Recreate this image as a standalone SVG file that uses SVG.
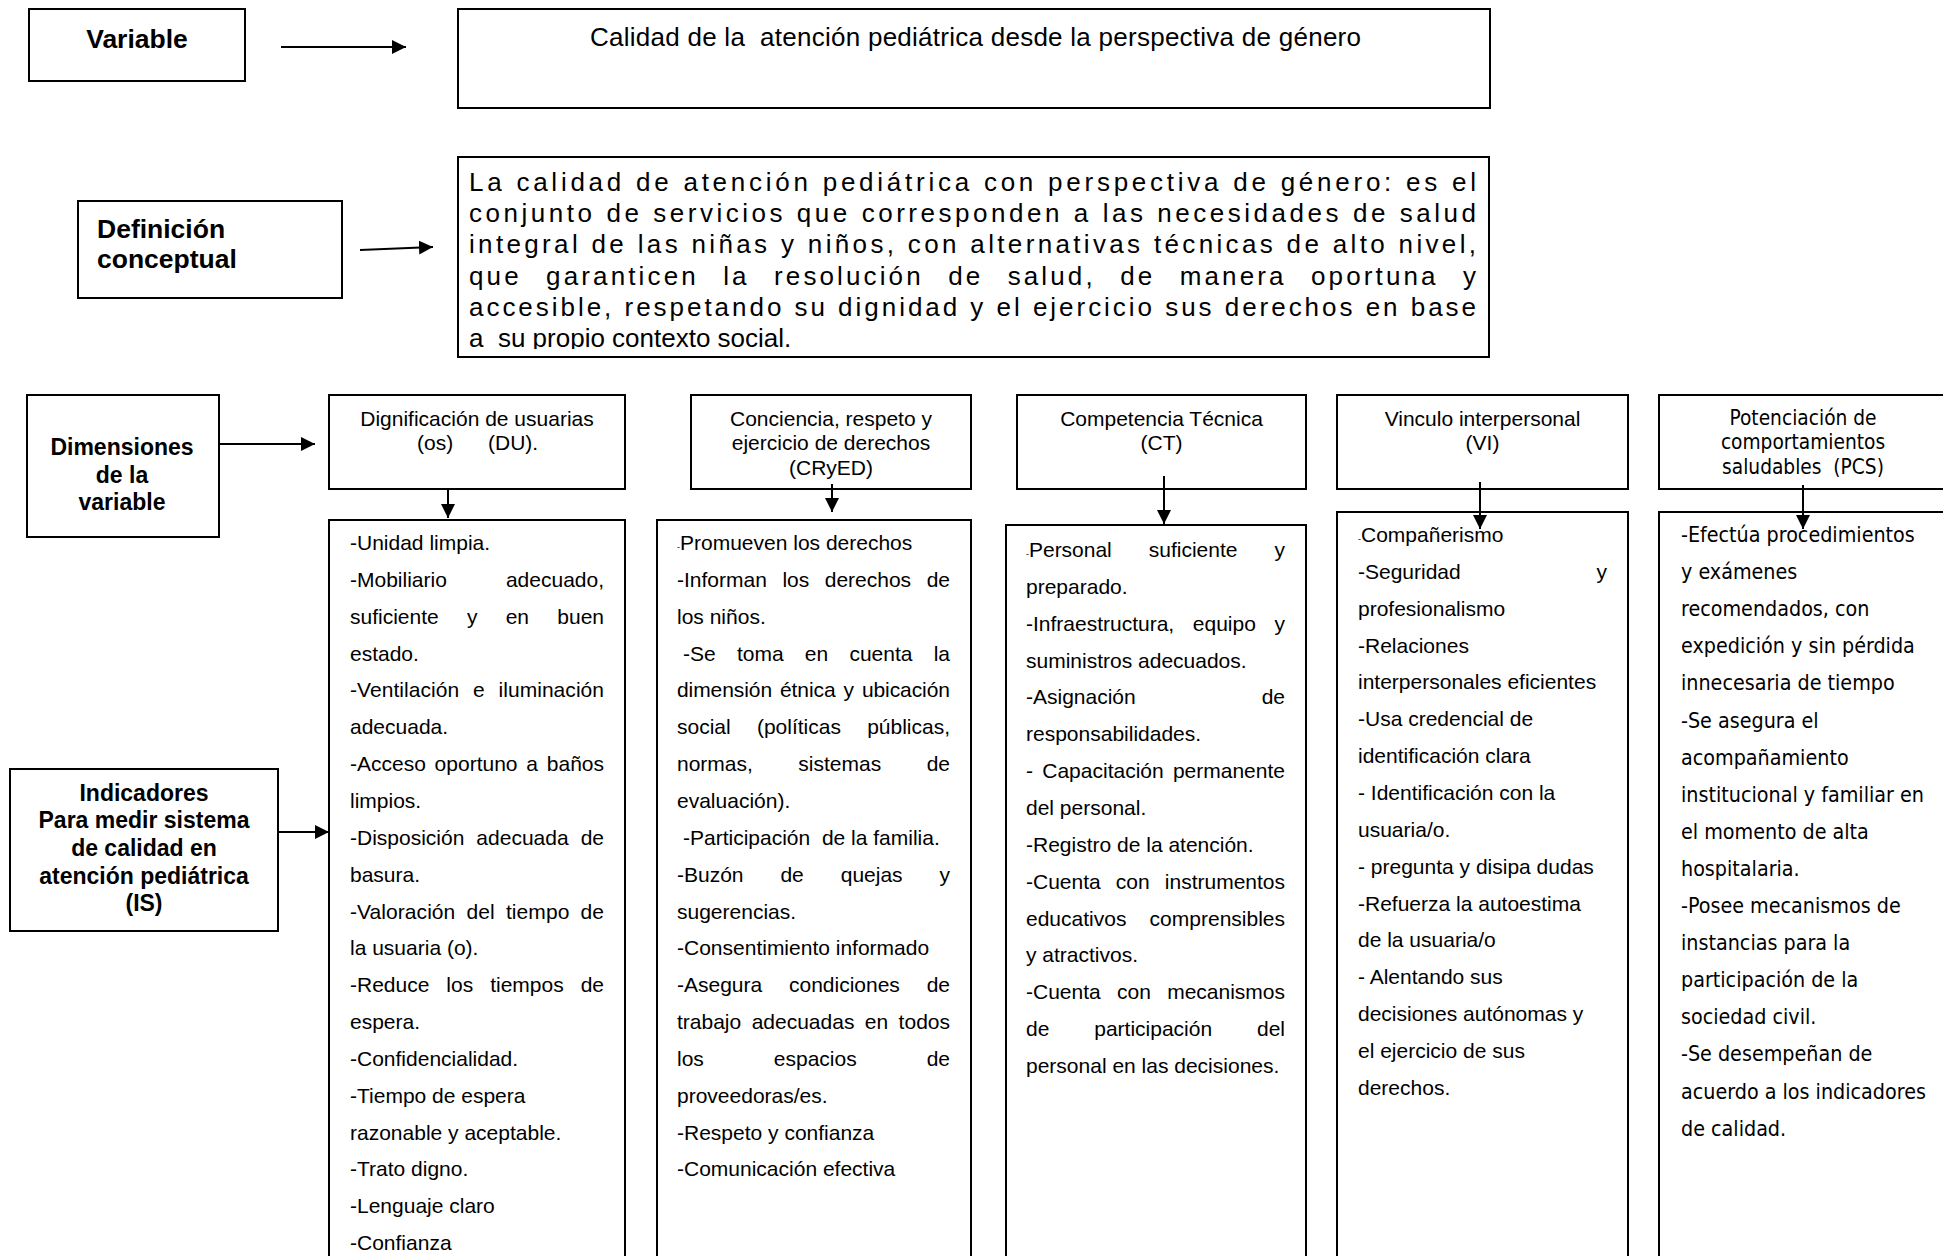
<svg xmlns="http://www.w3.org/2000/svg" width="1943" height="1256" viewBox="0 0 1943 1256">
<style>
.box{fill:#fff;stroke:#000;stroke-width:2}
.lbl{font-family:"Liberation Sans",Arial,sans-serif;font-weight:bold;fill:#000;text-anchor:middle}
.big{font-family:"Liberation Sans",Arial,sans-serif;font-weight:bold;font-size:26.5px;fill:#000}
.t{font-family:"Liberation Sans",Arial,sans-serif;font-size:21px;fill:#000}
.h{font-family:"Liberation Sans",Arial,sans-serif;font-size:21px;fill:#000;text-anchor:middle}
.tah{font-family:"DejaVu Sans Condensed","DejaVu Sans",sans-serif;font-stretch:condensed;font-size:21.3px;fill:#000}
.tahh{font-family:"DejaVu Sans Condensed","DejaVu Sans",sans-serif;font-stretch:condensed;font-size:20.7px;fill:#000;text-anchor:middle}
.def{font-family:"Liberation Sans",Arial,sans-serif;font-size:26px;fill:#000}
.conn{stroke:#000;stroke-width:2;fill:none;marker-end:url(#ah)}
</style>
<defs>
<marker id="ah" markerUnits="userSpaceOnUse" markerWidth="14" markerHeight="14" refX="14" refY="7" orient="auto">
<path d="M0,0 L14,7 L0,14 z" fill="#000"/>
</marker>
<clipPath id="defclip"><rect x="458" y="158" width="1031" height="191"/></clipPath>
</defs>
<rect width="1943" height="1256" fill="#fff"/>

<g id="n-variable">
<rect class="box" x="29" y="9" width="216" height="72"/>
<text class="big" x="137" y="48" text-anchor="middle">Variable</text>
</g>

<g id="n-title">
<rect class="box" x="458" y="9" width="1032" height="99"/>
<text class="t" style="font-size:26px" x="590" y="46" textLength="771" lengthAdjust="spacing" xml:space="preserve">Calidad de la  atención pediátrica desde la perspectiva de género</text>
</g>

<g id="n-def-label">
<rect class="box" x="78" y="201" width="264" height="97"/>
<text class="big" x="97" y="238">Definición</text>
<text class="big" x="97" y="268">conceptual</text>
</g>

<g id="n-def-text">
<rect class="box" x="458" y="157" width="1031" height="200"/>
<g clip-path="url(#defclip)">
<text class="def" x="469" y="191" textLength="1007" lengthAdjust="spacing">La calidad de atención pediátrica con perspectiva de género: es el</text>
<text class="def" x="469" y="222" textLength="1007" lengthAdjust="spacing">conjunto de servicios que corresponden a las necesidades de salud</text>
<text class="def" x="469" y="253" textLength="1007" lengthAdjust="spacing">integral de las niñas y niños, con alternativas técnicas de alto nivel,</text>
<text class="def" x="469" y="285" style="word-spacing:14px" textLength="1007" lengthAdjust="spacing">que garanticen la resolución de salud, de manera oportuna y</text>
<text class="def" x="469" y="316" textLength="1007" lengthAdjust="spacing">accesible, respetando su dignidad y el ejercicio sus derechos en base</text>
<text class="def" x="469" y="347" xml:space="preserve">a  su propio contexto social.</text>
</g>
</g>

<g id="n-dim-label">
<rect class="box" x="27" y="395" width="192" height="142"/>
<text class="lbl" style="font-size:23px" x="122" y="455">Dimensiones</text>
<text class="lbl" style="font-size:23px" x="122" y="483">de la</text>
<text class="lbl" style="font-size:23px" x="122" y="510">variable</text>
</g>

<g id="n-ind-label">
<rect class="box" x="10" y="769" width="268" height="162"/>
<text class="lbl" style="font-size:23px" x="144" y="801">Indicadores</text>
<text class="lbl" style="font-size:23px" x="144" y="828">Para medir sistema</text>
<text class="lbl" style="font-size:23px" x="144" y="856">de calidad en</text>
<text class="lbl" style="font-size:23px" x="144" y="884">atención pediátrica</text>
<text class="lbl" style="font-size:23px" x="144" y="911">(IS)</text>
</g>

<g id="n-du-head">
<rect class="box" x="329" y="395" width="296" height="94"/>
<text class="h" x="477" y="426">Dignificación de usuarias</text>
<text class="t" x="417" y="450">(os)</text>
<text class="t" x="488" y="450">(DU).</text>
</g>
<g id="n-du-list">
<rect class="box" x="329" y="520" width="296" height="760"/>
<text class="t" x="350" y="550">-Unidad limpia.</text>
<text class="t" x="350" y="587" style="word-spacing:53.3px" textLength="254" lengthAdjust="spacing">-Mobiliario adecuado,</text>
<text class="t" x="350" y="624" style="word-spacing:22.4px" textLength="254" lengthAdjust="spacing">suficiente y en buen</text>
<text class="t" x="350" y="661">estado.</text>
<text class="t" x="350" y="697" style="word-spacing:7.95px" textLength="254" lengthAdjust="spacing">-Ventilación e iluminación</text>
<text class="t" x="350" y="734">adecuada.</text>
<text class="t" x="350" y="771" style="word-spacing:2.97px" textLength="254" lengthAdjust="spacing">-Acceso oportuno a baños</text>
<text class="t" x="350" y="808">limpios.</text>
<text class="t" x="350" y="845" style="word-spacing:6.2px" textLength="254" lengthAdjust="spacing">-Disposición adecuada de</text>
<text class="t" x="350" y="882">basura.</text>
<text class="t" x="350" y="919" style="word-spacing:5.3px" textLength="254" lengthAdjust="spacing">-Valoración del tiempo de</text>
<text class="t" x="350" y="955">la usuaria (o).</text>
<text class="t" x="350" y="992" style="word-spacing:11.1px" textLength="254" lengthAdjust="spacing">-Reduce los tiempos de</text>
<text class="t" x="350" y="1029">espera.</text>
<text class="t" x="350" y="1066">-Confidencialidad.</text>
<text class="t" x="350" y="1103">-Tiempo de espera</text>
<text class="t" x="350" y="1140">razonable y aceptable.</text>
<text class="t" x="350" y="1176">-Trato digno.</text>
<text class="t" x="350" y="1213">-Lenguaje claro</text>
<text class="t" x="350" y="1250">-Confianza</text>
</g>

<g id="n-cr-head">
<rect class="box" x="691" y="395" width="280" height="94"/>
<text class="h" x="831" y="426">Conciencia, respeto y</text>
<text class="h" x="831" y="450">ejercicio de derechos</text>
<text class="h" x="831" y="475">(CRyED)</text>
</g>
<g id="n-cr-list">
<rect class="box" x="657" y="520" width="314" height="760"/>
<text class="t" x="677" y="550"><tspan font-size="9">-</tspan>Promueven los derechos</text>
<text class="t" x="677" y="587" style="word-spacing:9.7px" textLength="273" lengthAdjust="spacing">-Informan los derechos de</text>
<text class="t" x="677" y="624">los niños.</text>
<text class="t" x="683" y="661" style="word-spacing:15.4px" textLength="267" lengthAdjust="spacing">-Se toma en cuenta la</text>
<text class="t" x="677" y="697" style="word-spacing:2.2px" textLength="273" lengthAdjust="spacing">dimensión étnica y ubicación</text>
<text class="t" x="677" y="734" style="word-spacing:20.4px" textLength="273" lengthAdjust="spacing">social (políticas públicas,</text>
<text class="t" x="677" y="771" style="word-spacing:39.6px" textLength="273" lengthAdjust="spacing">normas, sistemas de</text>
<text class="t" x="677" y="808">evaluación).</text>
<text class="t" x="683" y="845" xml:space="preserve">-Participación  de la familia.</text>
<text class="t" x="677" y="882" style="word-spacing:31.1px" textLength="273" lengthAdjust="spacing">-Buzón de quejas y</text>
<text class="t" x="677" y="919">sugerencias.</text>
<text class="t" x="677" y="955">-Consentimiento informado</text>
<text class="t" x="677" y="992" style="word-spacing:20.95px" textLength="273" lengthAdjust="spacing">-Asegura condiciones de</text>
<text class="t" x="677" y="1029" style="word-spacing:4.6px" textLength="273" lengthAdjust="spacing">trabajo adecuadas en todos</text>
<text class="t" x="677" y="1066" style="word-spacing:64.1px" textLength="273" lengthAdjust="spacing">los espacios de</text>
<text class="t" x="677" y="1103">proveedoras/es.</text>
<text class="t" x="677" y="1140">-Respeto y confianza</text>
<text class="t" x="677" y="1176">-Comunicación efectiva</text>
</g>

<g id="n-ct-head">
<rect class="box" x="1017" y="395" width="289" height="94"/>
<text class="h" x="1161.5" y="426">Competencia Técnica</text>
<text class="h" x="1161.5" y="450">(CT)</text>
</g>
<g id="n-ct-list">
<rect class="box" x="1006" y="525" width="300" height="760"/>
<text class="t" x="1026" y="557" style="word-spacing:31.3px" textLength="259" lengthAdjust="spacing"><tspan font-size="9">-</tspan>Personal suficiente y</text>
<text class="t" x="1026" y="594">preparado.</text>
<text class="t" x="1026" y="631" style="word-spacing:12.8px" textLength="259" lengthAdjust="spacing">-Infraestructura, equipo y</text>
<text class="t" x="1026" y="668">suministros adecuados.</text>
<text class="t" x="1026" y="704" style="word-spacing:120.1px" textLength="259" lengthAdjust="spacing">-Asignación de</text>
<text class="t" x="1026" y="741">responsabilidades.</text>
<text class="t" x="1026" y="778" style="word-spacing:3.45px" textLength="259" lengthAdjust="spacing">- Capacitación permanente</text>
<text class="t" x="1026" y="815">del personal.</text>
<text class="t" x="1026" y="852">-Registro de la atención.</text>
<text class="t" x="1026" y="889" style="word-spacing:9.3px" textLength="259" lengthAdjust="spacing">-Cuenta con instrumentos</text>
<text class="t" x="1026" y="926" style="word-spacing:17.4px" textLength="259" lengthAdjust="spacing">educativos comprensibles</text>
<text class="t" x="1026" y="962">y atractivos.</text>
<text class="t" x="1026" y="999" style="word-spacing:10.45px" textLength="259" lengthAdjust="spacing">-Cuenta con mecanismos</text>
<text class="t" x="1026" y="1036" style="word-spacing:39.05px" textLength="259" lengthAdjust="spacing">de participación del</text>
<text class="t" x="1026" y="1073">personal en las decisiones.</text>
</g>

<g id="n-vi-head">
<rect class="box" x="1337" y="395" width="291" height="94"/>
<text class="h" x="1482.5" y="426">Vinculo interpersonal</text>
<text class="h" x="1482.5" y="450">(VI)</text>
</g>
<g id="n-vi-list">
<rect class="box" x="1337" y="512" width="291" height="770"/>
<text class="t" x="1358" y="542"><tspan font-size="9">-</tspan>Compañerismo</text>
<text class="t" x="1358" y="579" style="word-spacing:130px" textLength="249" lengthAdjust="spacing">-Seguridad y</text>
<text class="t" x="1358" y="616">profesionalismo</text>
<text class="t" x="1358" y="653">-Relaciones</text>
<text class="t" x="1358" y="689">interpersonales eficientes</text>
<text class="t" x="1358" y="726">-Usa credencial de</text>
<text class="t" x="1358" y="763">identificación clara</text>
<text class="t" x="1358" y="800">- Identificación con la</text>
<text class="t" x="1358" y="837">usuaria/o.</text>
<text class="t" x="1358" y="874">- pregunta y disipa dudas</text>
<text class="t" x="1358" y="911">-Refuerza la autoestima</text>
<text class="t" x="1358" y="947">de la usuaria/o</text>
<text class="t" x="1358" y="984">- Alentando sus</text>
<text class="t" x="1358" y="1021">decisiones autónomas y</text>
<text class="t" x="1358" y="1058">el ejercicio de sus</text>
<text class="t" x="1358" y="1095">derechos.</text>
</g>

<g id="n-pcs-head">
<rect class="box" x="1659" y="395" width="290" height="94"/>
<text class="tahh" x="1803" y="425">Potenciación de</text>
<text class="tahh" x="1803" y="449">comportamientos</text>
<text class="tahh" x="1803" y="474" xml:space="preserve">saludables  (PCS)</text>
</g>
<g id="n-pcs-list">
<rect class="box" x="1659" y="512" width="290" height="770"/>
<text class="tah" x="1681" y="542">-Efectúa procedimientos</text>
<text class="tah" x="1681" y="579">y exámenes</text>
<text class="tah" x="1681" y="616">recomendados, con</text>
<text class="tah" x="1681" y="653">expedición y sin pérdida</text>
<text class="tah" x="1681" y="690">innecesaria de tiempo</text>
<text class="tah" x="1681" y="728">-Se asegura el</text>
<text class="tah" x="1681" y="765">acompañamiento</text>
<text class="tah" x="1681" y="802">institucional y familiar en</text>
<text class="tah" x="1681" y="839">el momento de alta</text>
<text class="tah" x="1681" y="876">hospitalaria.</text>
<text class="tah" x="1681" y="913">-Posee mecanismos de</text>
<text class="tah" x="1681" y="950">instancias para la</text>
<text class="tah" x="1681" y="987">participación de la</text>
<text class="tah" x="1681" y="1024">sociedad civil.</text>
<text class="tah" x="1681" y="1061">-Se desempeñan de</text>
<text class="tah" x="1681" y="1099">acuerdo a los indicadores</text>
<text class="tah" x="1681" y="1136">de calidad.</text>
</g>

<g id="connectors">
<line class="conn" x1="281" y1="47" x2="406" y2="47"/>
<line class="conn" x1="360" y1="250" x2="433" y2="247"/>
<line class="conn" x1="219" y1="444" x2="315" y2="444"/>
<line class="conn" x1="278" y1="832" x2="329" y2="832"/>
<line class="conn" x1="448" y1="489" x2="448" y2="518"/>
<line class="conn" x1="832" y1="484" x2="832" y2="512"/>
<line class="conn" x1="1164" y1="476" x2="1164" y2="524"/>
<line class="conn" x1="1480" y1="482" x2="1480" y2="529"/>
<line class="conn" x1="1803" y1="485" x2="1803" y2="529"/>
</g>
</svg>
